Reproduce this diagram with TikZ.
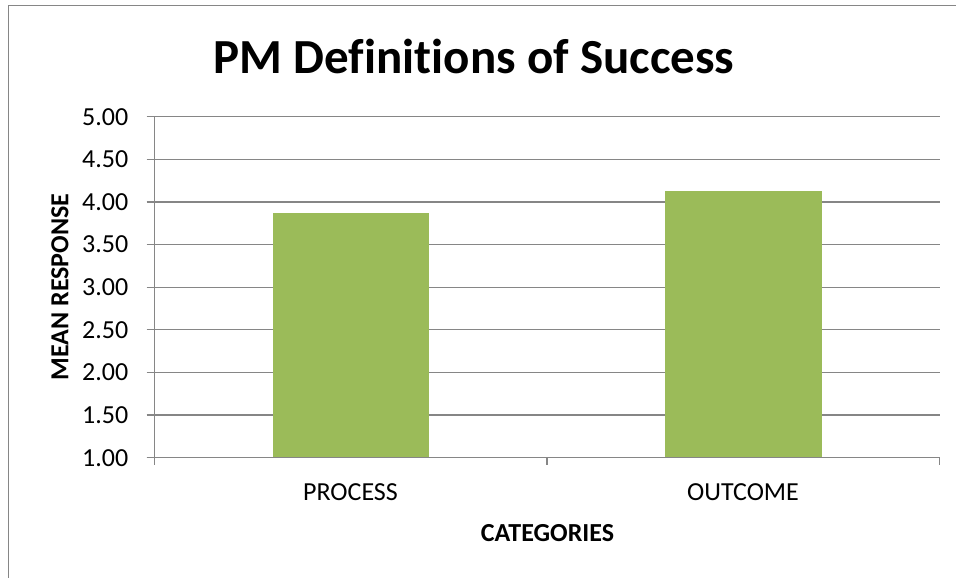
\documentclass[tikz,border=0pt]{standalone}
\usepackage{fontspec}
\setmainfont{Carlito}[Ligatures=CommonOff]
\usepackage{tikz}

\definecolor{chartgrey}{HTML}{868686}
\definecolor{bargreen}{HTML}{9BBB59}

\tikzset{
  gridline/.style={chartgrey, line width=1.2pt},
  bar/.style={fill=bargreen, draw=none},
  ticklabel/.style={inner sep=0pt, font=\fontsize{26}{28}\selectfont},
  axistitle/.style={inner sep=0pt, font=\fontsize{26}{28}\selectfont\bfseries}
}

\begin{document}
\begin{tikzpicture}[x=1pt, y=-1pt]
  \useasboundingbox[fill=white] (0,0) rectangle (956,578);
  \draw [chartgrey, line width=1.2pt] (8.5,5.5) rectangle (962,584);
  \node (title) at (474,56) {\fontsize{49}{52}\selectfont\bfseries PM Definitions of Success};
  % value axis grid
  \foreach \v [count=\i] in {1.00,1.50,2.00,2.50,3.00,3.50,4.00,4.50,5.00} {
    \pgfmathsetmacro{\yy}{457.7-(\v-1)*85.25}
    \coordinate (g\i) at (146.7,\yy);
    \coordinate (h\i) at (939.5,\yy);
    \draw [gridline] (g\i) -- (h\i);
    \node [ticklabel, anchor=east] (t\i) at (128.5,\yy) {\v};
  }
  \coordinate (yaxtop) at (154.5,116.7);
  \coordinate (yaxbot) at (154.5,465);
  \draw [gridline] (yaxtop) -- (yaxbot);
  % bars
  \node [bar, minimum width=156.7pt, minimum height=244.7pt, inner sep=0pt, anchor=south] (process) at (351,457.7) {};
  \node [bar, minimum width=156.7pt, minimum height=266.4pt, inner sep=0pt, anchor=south] (outcome) at (743.3,457.7) {};
  \draw [gridline] (g1) -- (h1);
  \coordinate (m1) at (547,457.7);
  \coordinate (m2) at (547,465);
  \coordinate (r1) at (939.5,457.7);
  \coordinate (r2) at (939.5,465);
  \draw [gridline] (m1) -- (m2);
  \draw [gridline] (r1) -- (r2);
  % category labels
  \node [ticklabel] (lproc) at (350.5,492) {PROCESS};
  \node [ticklabel] (lout) at (743,492) {OUTCOME};
  \node [axistitle] (xtitle) at (547.5,533) {CATEGORIES};
  \node [axistitle, rotate=90] (ytitle) at (60,287) {MEAN RESPONSE};
\end{tikzpicture}
\end{document}
